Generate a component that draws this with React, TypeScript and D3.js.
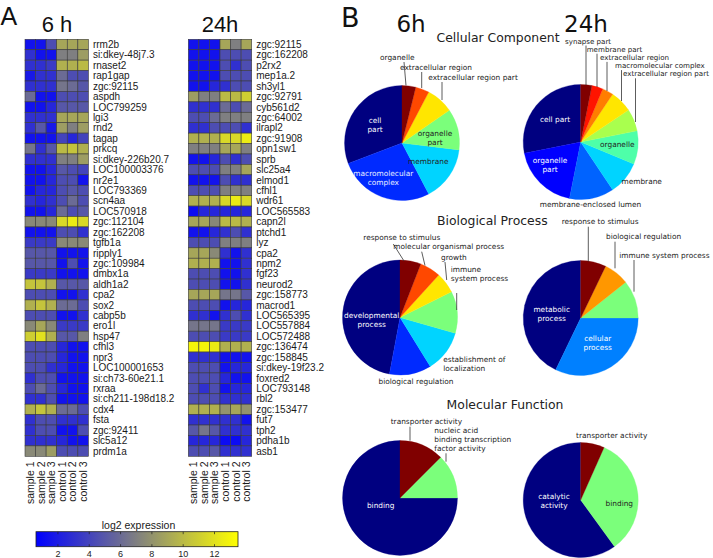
import React from 'react';
import * as d3 from 'd3';

// ---------------- Heatmap data ----------------
const SAMPLES = ['sample 1', 'sample 2', 'sample 3', 'control 1', 'control 2', 'control 3'];

const GENES_6H = [
  'rrm2b', 'si:dkey-48j7.3', 'rnaset2', 'rap1gap', 'zgc:92115', 'aspdh', 'LOC799259', 'lgi3', 'rnd2', 'tagap',
  'prkcq', 'si:dkey-226b20.7', 'LOC100003376', 'nr2e1', 'LOC793369', 'scn4aa', 'LOC570918', 'zgc:112104', 'zgc:162208', 'tgfb1a',
  'ripply1', 'zgc:109984', 'dmbx1a', 'aldh1a2', 'cpa2', 'sox2', 'cabp5b', 'ero1l', 'hsp47', 'cfhl3',
  'npr3', 'LOC100001653', 'si:ch73-60e21.1', 'rxraa', 'si:ch211-198d18.2', 'cdx4', 'fsta', 'zgc:92411', 'slc5a12', 'prdm1a',
];

const VALUES_6H: number[][] = [
  [1.5, 1.5, 4.5, 9, 9, 9],
  [3, 1.5, 1.5, 7, 7, 8.5],
  [3, 3, 3.5, 9.5, 9.5, 10],
  [1.8, 3, 3, 6, 4.5, 4.5],
  [3, 3, 3, 6.5, 6, 5],
  [6, 1.5, 1.5, 4.5, 4.5, 4.5],
  [1.5, 1.5, 2.5, 5, 5, 5],
  [3, 3, 3, 9, 9, 9],
  [3, 5, 1.8, 8.5, 7, 8.5],
  [1.5, 1.5, 1.5, 4, 2.5, 4],
  [6.5, 3, 5, 10, 10.5, 9.5],
  [3, 3, 3, 7, 7, 8.5],
  [1.5, 1.5, 2.5, 5, 4.5, 4],
  [1.5, 1.5, 2.5, 4.5, 4.5, 1.5],
  [1.5, 2.5, 2.5, 4.5, 5, 4.5],
  [3, 2.5, 3, 4.5, 6, 4.5],
  [1.5, 1.5, 2.5, 6, 4.5, 5],
  [7.5, 7.5, 7.5, 11.5, 12.5, 11.5],
  [1.5, 1.5, 1.5, 4.5, 4.5, 3],
  [3.5, 3.5, 3.5, 7.5, 7.5, 7.5],
  [5, 5, 5, 1.5, 1.5, 1.5],
  [5, 5, 5, 1.5, 4.5, 1.5],
  [3.5, 3.5, 3.5, 1.5, 1.5, 1.5],
  [10.5, 10.5, 9.5, 5, 5, 5],
  [4.5, 4.5, 4.5, 1.5, 1.5, 3],
  [9.5, 10.5, 9.5, 6, 6, 4.5],
  [4.5, 4.5, 4.5, 1.5, 1.5, 3],
  [7.5, 9, 7.5, 3.5, 3.5, 3.5],
  [11, 12, 9.5, 5, 5, 7],
  [4.5, 4.5, 4.5, 2.5, 1.5, 1.5],
  [4.5, 4.5, 4.5, 2.5, 1.5, 1.5],
  [4.5, 4.5, 3, 2.5, 1.5, 1.5],
  [3, 4.5, 4.5, 1.5, 1.5, 1.5],
  [4.5, 6, 4.5, 2.5, 1.5, 1.5],
  [3, 3, 4.5, 1.5, 1.5, 1.5],
  [9.5, 10.5, 9.5, 6, 6, 4.5],
  [3, 4.5, 4.5, 3, 3, 3],
  [3, 4.5, 4.5, 1.5, 1.5, 4.5],
  [3, 3, 3, 2.5, 1.5, 1.5],
  [7.5, 7.5, 8.5, 4.5, 4.5, 4.5],
];

const GENES_24H = [
  'zgc:92115', 'zgc:162208', 'p2rx2', 'mep1a.2', 'sh3yl1', 'zgc:92791', 'cyb561d2', 'zgc:64002', 'ilrapl2', 'zgc:91908',
  'opn1sw1', 'sprb', 'slc25a4', 'elmod1', 'cfhl1', 'wdr61', 'LOC565583', 'capn2l', 'ptchd1', 'lyz',
  'cpa2', 'npm2', 'fgf23', 'neurod2', 'zgc:158773', 'macrod1', 'LOC565395', 'LOC557884', 'LOC572488', 'zgc:136474',
  'zgc:158845', 'si:dkey-19f23.2', 'foxred2', 'LOC793148', 'rbl2', 'zgc:153477', 'fut7', 'tph2', 'pdha1b', 'asb1',
];

const VALUES_24H: number[][] = [
  [1.5, 1.5, 1.5, 9, 7, 9],
  [1.5, 1.5, 1.5, 4.5, 4.5, 4.5],
  [1.5, 1.5, 1.5, 4.5, 3, 4.5],
  [1.5, 1.5, 1.5, 4.5, 4.5, 4.5],
  [1.5, 1.5, 2.5, 3, 4.5, 4.5],
  [8.5, 7, 7, 10, 10, 11],
  [3, 3, 3, 6, 4.5, 6],
  [4.5, 4.5, 6, 7, 7, 7],
  [3, 3, 4.5, 4.5, 4.5, 3],
  [9.5, 9.5, 9.5, 11.5, 11.5, 12.5],
  [7, 7, 7, 9, 9, 7],
  [1.5, 1.5, 2.5, 4.5, 3, 4.5],
  [4.5, 4.5, 4.5, 7, 7, 9],
  [1.5, 1.5, 1.5, 4.5, 3, 3],
  [4.5, 4.5, 4.5, 7, 7, 7],
  [9.5, 9.5, 9.5, 11.5, 12.5, 11.5],
  [1.2, 2.5, 2.5, 2.5, 2.5, 2.5],
  [9, 9, 7.5, 10, 10, 9.5],
  [1.5, 1.5, 2.5, 3, 4.5, 3],
  [4.5, 4.5, 4.5, 7, 7, 7],
  [9, 9, 7.5, 3, 1.5, 3],
  [9.5, 9.5, 9.5, 1.5, 1.5, 3],
  [4.5, 4.5, 4.5, 1.5, 1.5, 3],
  [4.5, 4.5, 4.5, 1.5, 1.5, 3],
  [9, 9, 9, 6.5, 6.5, 5],
  [4.5, 4.5, 4.5, 1.5, 2.5, 2.5],
  [3, 3, 1.5, 3, 4.5, 3],
  [6.5, 6.5, 6.5, 3.5, 3.5, 3.5],
  [4.5, 4.5, 4.5, 3.5, 3.5, 3.5],
  [13, 13, 12.5, 9.5, 9.5, 9.5],
  [3, 3, 3, 1.5, 1.5, 1.5],
  [4.5, 4.5, 4.5, 1.5, 2.5, 2.5],
  [4.5, 4.5, 4.5, 2.5, 1.5, 1.5],
  [4.5, 3, 4.5, 1.5, 2.5, 2.5],
  [4.5, 4.5, 4.5, 3, 3, 3],
  [9.5, 9.5, 9.5, 8, 9, 8],
  [3, 3, 3, 3, 3, 1.5],
  [5, 6.5, 5, 3, 3, 3],
  [2.5, 2.5, 2.5, 1.2, 1.2, 2.5],
  [4.5, 4.5, 5, 3, 3, 3],
];

const COLOR_DOMAIN = [0.6, 13.5];
const COLORBAR_TICKS = [2, 4, 6, 8, 10, 12];

// ---------------- GO pie data ----------------
const CC_6H_TERMS = ['cell part', 'macromolecular complex', 'membrane', 'organelle part', 'extracellular region part', 'extracellular region', 'organelle'];
const CC_6H_COUNTS = [8, 7, 4, 3, 2, 1, 1];
const CC_24H_TERMS = ['cell part', 'organelle part', 'membrane-enclosed lumen', 'membrane', 'organelle', 'extracellular region part', 'macromolecular complex', 'extracellular region', 'membrane part', 'synapse part'];
const CC_24H_COUNTS = [9, 6, 4, 3, 3, 2, 2, 1, 1, 1];
const BP_6H_TERMS = ['developmental process', 'biological regulation', 'establishment of localization', 'immune system process', 'growth', 'molecular organismal process', 'response to stimulus'];
const BP_6H_COUNTS = [8, 2, 2, 2, 1, 1, 1];
const BP_24H_TERMS = ['metabolic process', 'cellular process', 'immune system process', 'biological regulation', 'response to stimulus'];
const BP_24H_COUNTS = [12, 9, 3, 2, 2];
const MF_6H_TERMS = ['binding', 'nucleic acid binding transcription factor activity', 'transporter activity'];
const MF_6H_COUNTS = [6, 1, 1];
const MF_24H_TERMS = ['catalytic activity', 'binding', 'transporter activity'];
const MF_24H_COUNTS = [9, 5, 1];

// ---------------- helpers ----------------
type Pt = [number, number];
const JR: Pt[] = [[0, 0], [0.35, 0], [0.66, 1], [0.89, 1], [1, 0.5]];
const JG: Pt[] = [[0, 0], [0.125, 0], [0.375, 1], [0.64, 1], [0.91, 0], [1, 0]];
const JB: Pt[] = [[0, 0.5], [0.11, 1], [0.34, 1], [0.65, 0], [1, 0]];
function seg(p: Pt[], t: number) {
  for (let i = 0; i < p.length - 1; i++) {
    const [x0, y0] = p[i];
    const [x1, y1] = p[i + 1];
    if (t <= x1) return y0 + ((y1 - y0) * (t - x0)) / (x1 - x0);
  }
  return p[p.length - 1][1];
}
function jet(t: number) {
  return d3.rgb(seg(JR, t) * 255, seg(JG, t) * 255, seg(JB, t) * 255).toString();
}

const heatColor = d3
  .scaleLinear<string>()
  .domain([COLOR_DOMAIN[0], (COLOR_DOMAIN[0] + COLOR_DOMAIN[1]) / 2, COLOR_DOMAIN[1]])
  .range(['#0000ff', '#808080', '#ffff00'])
  .clamp(true);

const SANS = '"Liberation Sans", Arial, sans-serif';
const DJ = '"DejaVu Sans", sans-serif';

function Heatmap({ x0, genes, values }: { x0: number; genes: string[]; values: number[][] }) {
  const cw = 63.4;
  const xs = d3.scaleBand<number>().domain(d3.range(SAMPLES.length)).range([x0, x0 + cw]);
  const ys = d3.scaleBand<number>().domain(d3.range(genes.length)).range([39.3, 456.3]);
  return (
    <g>
      {values.map((row, r) =>
        row.map((v, c) => (
          <rect key={`${r}-${c}`} x={xs(c)} y={ys(r)} width={xs.bandwidth()} height={ys.bandwidth()}
            fill={heatColor(v)} stroke="#3a3a3a" strokeWidth={0.6} />
        ))
      )}
      {genes.map((g, r) => (
        <text key={g + r} x={x0 + cw + 4.5} y={(ys(r) as number) + ys.bandwidth() / 2} dy="0.35em"
          fontFamily={SANS} fontSize={10} fill="#1a1a1a">{g}</text>
      ))}
      {SAMPLES.map((s, c) => (
        <text key={s} transform={`translate(${(xs(c) as number) + xs.bandwidth() / 2},461.5) rotate(-90)`}
          textAnchor="end" dy="0.35em" fontFamily={SANS} fontSize={10.5} fill="#1a1a1a">{s}</text>
      ))}
    </g>
  );
}

function Colorbar() {
  const x = d3.scaleLinear().domain(COLOR_DOMAIN).range([36, 238]);
  const y0 = 531.7, h = 15;
  const stops = d3.range(0, 1.0001, 0.05);
  return (
    <g>
      <defs>
        <linearGradient id="cbar" x1="0" x2="1" y1="0" y2="0">
          {stops.map((t) => (
            <stop key={t} offset={t} stopColor={heatColor(COLOR_DOMAIN[0] + t * (COLOR_DOMAIN[1] - COLOR_DOMAIN[0]))} />
          ))}
        </linearGradient>
      </defs>
      <text x={138.5} y={528.5} textAnchor="middle" fontFamily={SANS} fontSize={10.5} fill="#1a1a1a">log2 expression</text>
      <rect x={x(COLOR_DOMAIN[0])} y={y0} width={x(COLOR_DOMAIN[1]) - x(COLOR_DOMAIN[0])} height={h} fill="url(#cbar)" stroke="#222" strokeWidth={0.8} />
      {COLORBAR_TICKS.map((t) => (
        <g key={t}>
          <line x1={x(t)} x2={x(t)} y1={y0} y2={y0 + 2.5} stroke="#222" strokeWidth={0.7} />
          <line x1={x(t)} x2={x(t)} y1={y0 + h} y2={y0 + h - 2.5} stroke="#222" strokeWidth={0.7} />
          <text x={x(t)} y={556.5} textAnchor="middle" fontFamily={SANS} fontSize={9} fill="#222">{t}</text>
        </g>
      ))}
    </g>
  );
}

type LabelCfg = {
  i: number;
  lines?: string[];
  dx: number;
  dy: number; // first line center
  anchor?: 'start' | 'middle';
  color?: string;
  size?: number;
  leader?: [number, number, number, number];
};

const R = 57.5;

function Pie({ cx, cy, terms, counts, labels }: { cx: number; cy: number; terms: string[]; counts: number[]; labels: LabelCfg[] }) {
  const n = counts.length;
  const arcs = d3.pie<number>().sort(null).startAngle(0).endAngle(-2 * Math.PI)(counts);
  const arc = d3.arc<d3.PieArcDatum<number>>().innerRadius(0).outerRadius(R);
  return (
    <g transform={`translate(${cx},${cy})`}>
      {arcs.map((a, k) => (
        <path key={k} d={arc(a) || ''} fill={jet(n === 1 ? 0 : k / (n - 1))} stroke={jet(n === 1 ? 0 : k / (n - 1))} strokeWidth={0.3} />
      ))}
      {labels.map((l, k) => {
        const lines = l.lines ?? [terms[l.i]];
        return (
          <g key={k}>
            {l.leader && (
              <line x1={l.leader[0]} y1={l.leader[1]} x2={l.leader[2]} y2={l.leader[3]} stroke="#333" strokeWidth={0.8} />
            )}
            {lines.map((t, j) => (
              <text key={j} x={l.dx} y={l.dy + j * 9} dy="0.35em" textAnchor={l.anchor ?? 'middle'}
                fontFamily={DJ} fontSize={l.size ?? 7.4} fill={l.color ?? '#222'}>{t}</text>
            ))}
          </g>
        );
      })}
    </g>
  );
}

const W = '#ffffff';

const CC6_LABELS: LabelCfg[] = [
  { i: 0, lines: ['cell', 'part'], dx: -27, dy: -23, color: W },
  { i: 1, lines: ['macromolecular', 'complex'], dx: -18.7, dy: 30.3, color: '#e8eeff' },
  { i: 2, dx: 26.3, dy: 18.7 },
  { i: 3, lines: ['organelle', 'part'], dx: 33, dy: -9.7 },
  { i: 6, dx: -22, dy: -86, anchor: 'start', leader: [2, -81, 4, -57.5] },
  { i: 5, dx: -2, dy: -76, anchor: 'start', leader: [19.7, -71, 19.7, -55] },
  { i: 4, dx: 26.3, dy: -66, anchor: 'start', leader: [40, -61, 40, -43] },
];

const CC24_LABELS: LabelCfg[] = [
  { i: 0, dx: -25.7, dy: -23, color: W },
  { i: 1, lines: ['organelle', 'part'], dx: -30.7, dy: 18.7, color: W },
  { i: 4, dx: 36.6, dy: 2.3 },
  { i: 3, dx: 61, dy: 39.7 },
  { i: 2, dx: 9.8, dy: 62 },
  { i: 9, dx: -15.7, dy: -101, anchor: 'start', size: 7.1, leader: [5.3, -96.5, 5.3, -57] },
  { i: 8, dx: 6, dy: -92.8, anchor: 'start', size: 7.1, leader: [16.3, -88.3, 16.3, -55] },
  { i: 7, dx: 19.3, dy: -84.6, anchor: 'start', size: 7.1, leader: [26.3, -80.1, 26.3, -51] },
  { i: 6, dx: 34.3, dy: -76.4, anchor: 'start', size: 7.1, leader: [40.8, -71.9, 40.8, -41] },
  { i: 5, dx: 42.3, dy: -68.2, anchor: 'start', size: 7.1, leader: [54.8, -63.7, 54.8, -20] },
];

const BP6_LABELS: LabelCfg[] = [
  { i: 0, lines: ['developmental', 'process'], dx: -28.3, dy: -2.5, color: W },
  { i: 2, lines: ['establishment of', 'localization'], dx: 43.3, dy: 41.5, anchor: 'start' },
  { i: 1, dx: 16, dy: 64.2 },
  { i: 6, dx: -36.7, dy: -80.2, anchor: 'start', leader: [-6.7, -73.5, 4, -56.5] },
  { i: 5, dx: -6.7, dy: -70.8, anchor: 'start', leader: [21.7, -65.8, 25, -52] },
  { i: 4, dx: 41, dy: -59.8, anchor: 'start', leader: [45, -55.5, 46.7, -37.5] },
  { i: 3, lines: ['immune', 'system process'], dx: 50.7, dy: -48.5, anchor: 'start', leader: [56.7, -24.5, 56.7, -7.5] },
];

const BP24_LABELS: LabelCfg[] = [
  { i: 0, lines: ['metabolic', 'process'], dx: -29, dy: -8.7, color: W },
  { i: 1, lines: ['cellular', 'process'], dx: 17, dy: 20.3, color: W },
  { i: 4, dx: -19, dy: -96.3, anchor: 'start', leader: [7.6, -91.3, 7.6, -56.3] },
  { i: 3, dx: 25.3, dy: -81.3, anchor: 'start', leader: [34.3, -76.3, 34.3, -49.7] },
  { i: 2, dx: 38.6, dy: -63, anchor: 'start', leader: [53.3, -58, 53.3, -26.3] },
];

const MF6_LABELS: LabelCfg[] = [
  { i: 0, dx: -19.3, dy: 7, color: W },
  { i: 2, dx: -9.3, dy: -77, anchor: 'start', leader: [10, -71.3, 10, -57.3] },
  { i: 1, lines: ['nucleic acid', 'binding transcription', 'factor activity'], dx: 34.3, dy: -68, anchor: 'start', leader: [46, -44.7, 46, -36.3] },
];

const MF24_LABELS: LabelCfg[] = [
  { i: 0, lines: ['catalytic', 'activity'], dx: -26.7, dy: -3.3, color: W },
  { i: 1, dx: 38.6, dy: 3.3 },
  { i: 2, dx: -4.7, dy: -65, anchor: 'start' },
];

export default function App() {
  return (
    <svg width={713} height={558} viewBox="0 0 713 558"
      style={{ position: 'absolute', left: 0, top: 0, background: '#fff', display: 'block' }}>
      <rect width={713} height={558} fill="#fff" />
      {/* Panel A */}
      <text x={0.5} y={25} fontFamily={SANS} fontSize={25} fill="#111">A</text>
      <text x={57} y={31.5} textAnchor="middle" fontFamily={SANS} fontSize={22} fill="#111">6 h</text>
      <text x={220} y={31.5} textAnchor="middle" fontFamily={SANS} fontSize={22} fill="#111">24h</text>
      <Heatmap x0={25} genes={GENES_6H} values={VALUES_6H} />
      <Heatmap x0={188.3} genes={GENES_24H} values={VALUES_24H} />
      <Colorbar />

      {/* Panel B */}
      <text x={341} y={26.5} fontFamily={DJ} fontSize={27} fill="#111">B</text>
      <text x={411} y={31.5} textAnchor="middle" fontFamily={DJ} fontSize={23} fill="#111">6h</text>
      <text x={586} y={31.5} textAnchor="middle" fontFamily={DJ} fontSize={23} fill="#111">24h</text>
      <text x={498} y={42} textAnchor="middle" fontFamily={DJ} fontSize={12.4} fill="#222">Cellular Component</text>
      <text x={492.3} y={224.5} textAnchor="middle" fontFamily={DJ} fontSize={12.4} fill="#222">Biological Process</text>
      <text x={505} y={408.8} textAnchor="middle" fontFamily={DJ} fontSize={12.4} fill="#222">Molecular Function</text>

      <Pie cx={402} cy={143} terms={CC_6H_TERMS} counts={CC_6H_COUNTS} labels={CC6_LABELS} />
      <Pie cx={580.7} cy={142} terms={CC_24H_TERMS} counts={CC_24H_COUNTS} labels={CC24_LABELS} />
      <Pie cx={400} cy={317.5} terms={BP_6H_TERMS} counts={BP_6H_COUNTS} labels={BP6_LABELS} />
      <Pie cx={580.7} cy={318} terms={BP_24H_TERMS} counts={BP_24H_COUNTS} labels={BP24_LABELS} />
      <Pie cx={400} cy={498} terms={MF_6H_TERMS} counts={MF_6H_COUNTS} labels={MF6_LABELS} />
      <Pie cx={580.7} cy={500} terms={MF_24H_TERMS} counts={MF_24H_COUNTS} labels={MF24_LABELS} />
    </svg>
  );
}
